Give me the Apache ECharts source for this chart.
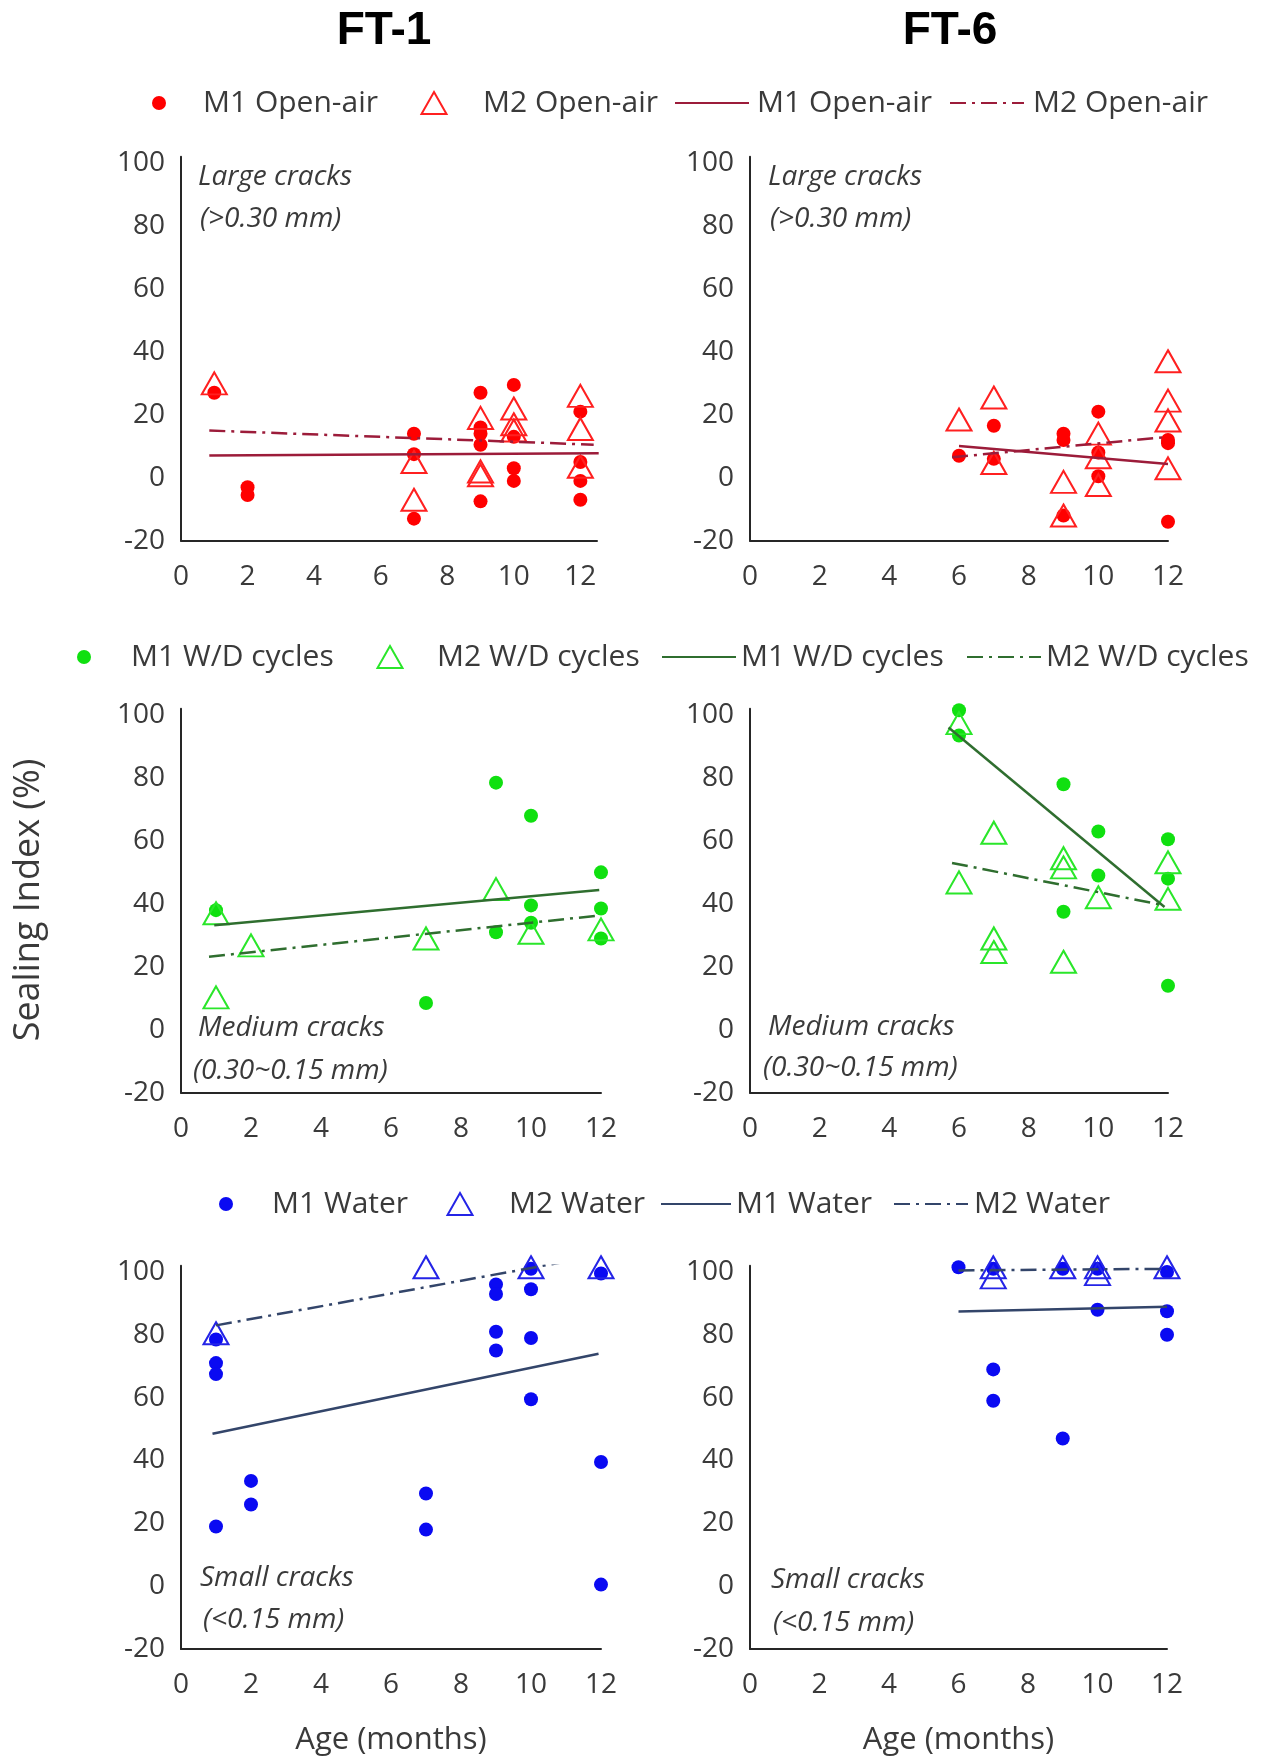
<!DOCTYPE html>
<html>
<head>
<meta charset="utf-8">
<script src="https://cdn.jsdelivr.net/npm/echarts@6/dist/echarts.min.js"></script>
<style>
html,body{margin:0;padding:0;background:#fff;}
#chart{width:1269px;height:1757px;}
</style>
</head>
<body>
<div id="chart"></div>
<script>
// ---------- DATA ----------
const COLUMN_TITLES = ['FT-1', 'FT-6'];
const Y_AXIS_TITLE = 'Sealing Index (%)';
const X_AXIS_TITLE = 'Age (months)';
const CRACK_LABELS = [
  ['Large cracks', '(>0.30 mm)'],
  ['Medium cracks', '(0.30~0.15 mm)'],
  ['Small cracks', '(<0.15 mm)']
];
const GROUP_NAMES = ['Open-air', 'W/D cycles', 'Water'];

// FT-1, Open-air
const FT1_OPEN_M1 = [[1,27],[2,-3],[2,-5.5],[7,14],[7,7.5],[7,-13],[9,27],[9,16],[9,14],[9,10.5],[9,-7.5],[10,29.5],[10,13],[10,3],[10,-1],[12,21],[12,5],[12,-1],[12,-7]];
const FT1_OPEN_M2 = [[1,30],[7,5],[7,-7],[9,19],[9,2],[9,0.8],[10,22],[10,17],[10,15],[12,26],[12,15.5],[12,3.5]];
const FT1_OPEN_M1_FIT = [[0.85,7.1],[12.55,7.8]];
const FT1_OPEN_M2_FIT = [[0.85,15],[12.4,10.5]];
// FT-6, Open-air
const FT6_OPEN_M1 = [[6,7],[7,16.5],[7,6],[9,14],[9,12],[9,-12],[10,21],[10,8],[10,0.5],[12,12],[12,11],[12,-14]];
const FT6_OPEN_M2 = [[6,18.5],[7,25.5],[7,4.7],[9,-1.3],[9,-12],[10,14],[10,6.5],[10,-2.3],[12,37],[12,24.5],[12,18.2],[12,3]];
const FT6_OPEN_M1_FIT = [[6,10.1],[12,4.4]];
const FT6_OPEN_M2_FIT = [[5.8,6.5],[12,13]];
// FT-1, W/D cycles
const FT1_WD_M1 = [[1,38],[7,8.5],[9,78.5],[9,31],[10,68],[10,39.5],[10,34],[12,50],[12,38.5],[12,29]];
const FT1_WD_M2 = [[1,37],[1,10.3],[2,26.8],[7,29],[9,44.7],[10,30.8],[12,31.9]];
const FT1_WD_M1_FIT = [[0.95,33.2],[11.95,44.4]];
const FT1_WD_M2_FIT = [[0.8,23.2],[11.95,36.3]];
// FT-6, W/D cycles
const FT6_WD_M1 = [[6,101.5],[6,93.5],[9,78],[9,37.5],[10,63],[10,49],[12,60.5],[12,48],[12,14]];
const FT6_WD_M2 = [[6,97.4],[6,46.8],[7,62.6],[7,29],[7,24.7],[9,54.5],[9,51.6],[9,21.6],[10,42.1],[12,53.2],[12,41.6]];
const FT6_WD_M1_FIT = [[5.7,96],[11.9,39]];
const FT6_WD_M2_FIT = [[5.8,53],[11.9,39.5]];
// FT-1, Water
const FT1_WATER_M1 = [[1,78.5],[1,71],[1,67.5],[1,19],[2,33.5],[2,26],[7,29.5],[7,18],[9,96],[9,93],[9,81],[9,75],[10,101],[10,94.5],[10,79],[10,59.5],[12,99.5],[12,39.5],[12,0.5]];
const FT1_WATER_M2 = [[1,80.5],[7,101.5],[10,101.5],[12,101.5]];
const FT1_WATER_M1_FIT = [[0.9,48.5],[11.93,74]];
const FT1_WATER_M2_FIT = [[1,83],[11.1,103.5]];
// FT-6, Water
const FT6_WATER_M1 = [[6,101.5],[7,101],[7,69],[7,59],[9,101],[9,47],[10,101],[10,88],[12,100],[12,87.5],[12,80]];
const FT6_WATER_M2 = [[7,101.5],[7,98.3],[9,101.5],[10,101.5],[10,99.3],[12,101.5]];
const FT6_WATER_M1_FIT = [[6,87.4],[12,88.9]];
const FT6_WATER_M2_FIT = [[6,100.5],[12,101]];

// ---------- STYLE ----------
const FONT = "'Open Sans', 'Noto Sans', sans-serif";
const TXT = '#3a3a3a';
const GROUP_COLORS = [
  {dot:'#FF0000', tri:'#FF2020', line:'#9C1C3A'},
  {dot:'#10E010', tri:'#2AE62A', line:'#2F6E2F'},
  {dot:'#0A0AF2', tri:'#2424E6', line:'#33456A'}
];
const DASHDOT = [16, 6, 3, 6];

const PANELS = [
  {row:0, col:0, m1:FT1_OPEN_M1, m2:FT1_OPEN_M2, f1:FT1_OPEN_M1_FIT, f2:FT1_OPEN_M2_FIT, xmax:12.5},
  {row:0, col:1, m1:FT6_OPEN_M1, m2:FT6_OPEN_M2, f1:FT6_OPEN_M1_FIT, f2:FT6_OPEN_M2_FIT, xmax:12},
  {row:1, col:0, m1:FT1_WD_M1, m2:FT1_WD_M2, f1:FT1_WD_M1_FIT, f2:FT1_WD_M2_FIT, xmax:12},
  {row:1, col:1, m1:FT6_WD_M1, m2:FT6_WD_M2, f1:FT6_WD_M1_FIT, f2:FT6_WD_M2_FIT, xmax:12},
  {row:2, col:0, m1:FT1_WATER_M1, m2:FT1_WATER_M2, f1:FT1_WATER_M1_FIT, f2:FT1_WATER_M2_FIT, xmax:12},
  {row:2, col:1, m1:FT6_WATER_M1, m2:FT6_WATER_M2, f1:FT6_WATER_M1_FIT, f2:FT6_WATER_M2_FIT, xmax:12}
];

// layout
const ROW_TOP = [156.7, 708.7, 1265.7];
const GRID_H = 384;
const COL_LEFT = [181, 750];
const COL_W = [[416, 418], [420, 418], [420, 417]];
const LEGEND_Y = [103, 657, 1204];
// [icon centre x (or left for lines), itemWidth, itemHeight, text start x]
const LEGEND_ITEMS = [
  [[159,14,14,203],[433,25,22,482],[674,74,14,756],[949,74,14,1032]],
  [[84,14,14,131],[389,25,22,436],[661,74,14,740],[966,74,14,1045]],
  [[226,14,14,272],[459,25,22,508],[660,70,14,734],[893,74,14,973]]
];
const ANNOT = [
  [[198,177],[200,219],[768,177],[770,219]],
  [[198,1028],[193,1071],[768,1027],[763,1068]],
  [[200,1578],[203,1620],[771,1580],[773,1623]]
];

const grid = [], xAxis = [], yAxis = [], series = [], legend = [], graphic = [];

PANELS.forEach((p, i) => {
  const g = GROUP_COLORS[p.row];
  const gname = GROUP_NAMES[p.row];
  grid.push({left: COL_LEFT[p.col], top: ROW_TOP[p.row], width: COL_W[p.row][p.col], height: GRID_H});
  xAxis.push({
    type:'value', gridIndex:i, min:0, max:p.xmax, interval:2,
    axisLine:{show:true, onZero:false, lineStyle:{color:'#262626', width:2}},
    axisTick:{show:false}, splitLine:{show:false},
    axisLabel:{margin:22, color:TXT, fontSize:28, fontFamily:FONT,
      formatter: v => (Math.abs(v % 2) < 1e-9 ? String(v) : '')},
    name: p.row === 2 ? X_AXIS_TITLE : '',
    nameLocation:'middle', nameGap:76,
    nameTextStyle:{color:TXT, fontSize:31, fontFamily:FONT}
  });
  yAxis.push({
    type:'value', gridIndex:i, min:-20, max:102, interval:20,
    axisLine:{show:true, onZero:false, lineStyle:{color:'#262626', width:2}},
    axisTick:{show:false}, splitLine:{show:false},
    axisLabel:{margin:16, color:TXT, fontSize:28, fontFamily:FONT,
      formatter: v => (Math.abs(v % 20) < 1e-9 ? String(v) : '')}
  });
  series.push({
    type:'scatter', name:'M1 ' + gname, xAxisIndex:i, yAxisIndex:i, data:p.m1,
    symbol:'circle', symbolSize:14, clip:false,
    itemStyle:{color:g.dot, opacity:1}, z:3
  });
  series.push({
    type:'scatter', name:'M2 ' + gname, xAxisIndex:i, yAxisIndex:i, data:p.m2,
    symbol:'triangle', symbolSize:[25,22], clip:false,
    itemStyle:{color:'rgba(255,255,255,0)', borderColor:g.tri, borderWidth:2, opacity:1}, z:4
  });
  series.push({
    type:'line', name:'M1 ' + gname + ' fit', xAxisIndex:i, yAxisIndex:i, data:p.f1,
    symbol:'none', silent:true, clip:true,
    lineStyle:{color:g.line, width:2.5, type:'solid'}, itemStyle:{color:g.line}, z:5
  });
  series.push({
    type:'line', name:'M2 ' + gname + ' fit', xAxisIndex:i, yAxisIndex:i, data:p.f2,
    symbol:'none', silent:true, clip:true,
    lineStyle:{color:g.line, width:2.5, type:DASHDOT}, itemStyle:{color:g.line}, z:5
  });
});

// legends: one per item so each can be placed like the reference
GROUP_NAMES.forEach((gname, r) => {
  const names = ['M1 ' + gname, 'M2 ' + gname, 'M1 ' + gname + ' fit', 'M2 ' + gname + ' fit'];
  names.forEach((nm, k) => {
    const [pos, w, h, textX] = LEGEND_ITEMS[r][k];
    const isLine = k >= 2;
    const left = isLine ? pos : pos - w / 2;
    const pad = Math.max(0, textX - (left + w + 5));
    const lg = {
      data:[nm], left:left, top:LEGEND_Y[r] - 16, padding:0,
      itemWidth:w, itemHeight:h, selectedMode:false,
      formatter: n => n.replace(' fit', ''),
      textStyle:{color:TXT, fontSize:30, fontFamily:FONT, lineHeight:32, padding:[0,0,0,pad]}
    };
    if (isLine) lg.itemStyle = {opacity:0};
    legend.push(lg);
  });
});

// crack-size annotations
CRACK_LABELS.forEach((lab, r) => {
  const pos = ANNOT[r];
  [[pos[0], pos[1]], [pos[2], pos[3]]].forEach(pp => {
    graphic.push({type:'text', x:pp[0][0], y:pp[0][1], style:{text:lab[0], fill:TXT, font:"italic 28px " + FONT, textVerticalAlign:'middle'}});
    graphic.push({type:'text', x:pp[1][0], y:pp[1][1], style:{text:lab[1], fill:TXT, font:"italic 28px " + FONT, textVerticalAlign:'middle'}});
  });
});
// y axis title
graphic.push({type:'text', x:29, y:900, rotation:Math.PI/2,
  style:{text:Y_AXIS_TITLE, fill:TXT, font:"36px " + FONT, textAlign:'center', textVerticalAlign:'middle'}});

const chart = echarts.init(document.getElementById('chart'), null, {renderer:'canvas'});
chart.setOption({
  backgroundColor:'#ffffff',
  animation:false,
  title: COLUMN_TITLES.map((t, c) => ({
    text:t, left: c === 0 ? 379 : 945, top:3, textAlign:'center',
    textStyle:{fontSize:46, fontWeight:'bold', color:'#000', fontFamily:"'Liberation Sans Narrow', 'Liberation Sans', sans-serif"}
  })),
  grid, xAxis, yAxis, series, legend, graphic
});
</script>
</body>
</html>
